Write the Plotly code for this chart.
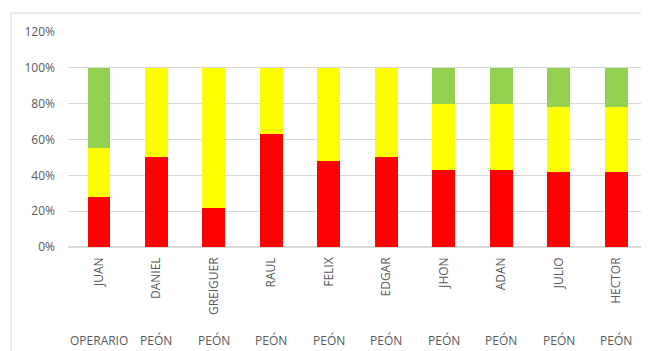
import plotly.graph_objects as go

nombres = ["JUAN", "DANIEL", "GREIGUER", "RAUL", "FELIX", "EDGAR", "JHON", "ADAN", "JULIO", "HECTOR"]
cargos = ["OPERARIO", "PEÓN", "PEÓN", "PEÓN", "PEÓN", "PEÓN", "PEÓN", "PEÓN", "PEÓN", "PEÓN"]
rojo = [0.28, 0.50, 0.22, 0.63, 0.48, 0.50, 0.43, 0.43, 0.42, 0.42]
amarillo = [0.27, 0.50, 0.78, 0.37, 0.52, 0.50, 0.37, 0.37, 0.36, 0.36]
verde = [0.45, 0.00, 0.00, 0.00, 0.00, 0.00, 0.20, 0.20, 0.22, 0.22]

gris = "#595959"
fuente = "Open Sans"

fig = go.Figure()
fig.add_trace(go.Bar(x=nombres, y=rojo, marker_color="#FF0000", marker_line_width=0, name="Rojo"))
fig.add_trace(go.Bar(x=nombres, y=amarillo, marker_color="#FFFF00", marker_line_width=0, name="Amarillo"))
fig.add_trace(go.Bar(x=nombres, y=verde, marker_color="#92D050", marker_line_width=0, name="Verde"))

# segunda fila de etiquetas (cargo)
for n, c in zip(nombres, cargos):
    fig.add_annotation(x=n, y=-0.433, xref="x", yref="paper", text=c, showarrow=False,
                       yanchor="middle", font=dict(family=fuente, size=12, color=gris))

# borde del área del gráfico
fig.add_shape(type="rect", xref="paper", yref="paper", x0=-0.0988, x1=1.2, y0=-0.7, y1=1.088,
              line=dict(color="#d9d9d9", width=1), layer="below")

# la página tiene 8px de margen en body
fig.update_layout(
    barmode="stack", bargap=0.6, showlegend=False,
    width=641, height=343,
    margin=dict(l=60, r=4, t=24, b=104),
    plot_bgcolor="white", paper_bgcolor="white",
    font=dict(family=fuente, size=12, color=gris),
)
fig.update_xaxes(tickangle=-90, showgrid=False, showline=False, ticks="",
                 ticklabelstandoff=7, tickfont=dict(size=12, color=gris))
fig.update_yaxes(range=[0, 1.2], dtick=0.2, tickformat=".0%", showgrid=True,
                 gridcolor="#d9d9d9", gridwidth=1, zeroline=True, zerolinecolor="#d9d9d9",
                 ticks="", ticklabelstandoff=12, tickfont=dict(size=12, color=gris))

fig.write_html("out.html")
